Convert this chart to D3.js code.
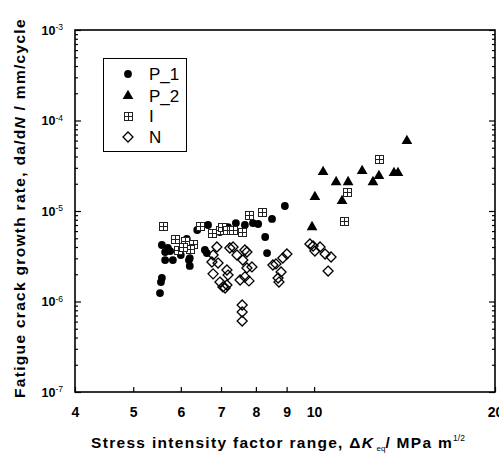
<!DOCTYPE html>
<html><head><meta charset="utf-8">
<script src="https://cdn.jsdelivr.net/npm/d3@7"></script>
<style>body{margin:0;background:#fff;} svg{display:block;font-family:Arial,"Liberation Sans",sans-serif;}</style>
</head><body>
<script>
// ---- data (ΔK in MPa·m^1/2, da/dN in mm/cycle) ----
const p1X = [5.54,5.56,5.58,5.58,5.65,5.71,5.65,5.82,5.76,6.00,6.14,6.19,6.21,6.39,6.58,6.63,6.66,6.97,7.19,7.41,7.67,7.91,8.07,8.51,8.94,8.29,8.35,6.21];
const p1Y = [1.24e-6,1.64e-6,1.82e-6,4.21e-6,3.52e-6,3.90e-6,2.87e-6,2.87e-6,3.61e-6,3.26e-6,4.91e-6,2.87e-6,2.47e-6,6.17e-6,3.71e-6,3.43e-6,7.00e-6,5.86e-6,6.65e-6,7.36e-6,7.00e-6,7.36e-6,7.18e-6,8.17e-6,1.135e-5,5.16e-6,3.43e-6,3.02e-6];
const p2X = [14.27,10.35,10.88,11.39,12.02,12.53,12.82,13.58,13.79,10.03,11.13,9.92];
const p2Y = [5.94e-5,2.70e-5,2.09e-5,2.09e-5,2.77e-5,2.09e-5,2.44e-5,2.63e-5,2.63e-5,1.43e-5,1.29e-5,6.65e-6];
const iX = [5.61,5.87,6.10,6.29,5.94,6.21,6.05,6.46,6.76,6.97,7.03,7.16,7.33,7.59,7.79,8.19,11.21,11.34,12.82];
const iY = [6.82e-6,4.91e-6,4.67e-6,4.32e-6,3.71e-6,3.80e-6,4.00e-6,6.82e-6,5.71e-6,6.17e-6,6.65e-6,6.17e-6,6.17e-6,5.86e-6,9.04e-6,9.75e-6,7.76e-6,1.62e-5,3.75e-5];
const nX = [6.89,6.79,6.76,6.92,6.79,6.97,7.05,7.16,7.11,7.19,7.16,7.24,7.33,7.44,7.61,7.67,7.73,7.53,7.67,7.73,7.59,7.59,7.59,7.88,7.79,9.01,8.87,8.64,8.54,8.81,8.71,8.74,9.84,9.96,10.03,10.23,10.43,10.67,10.55];
const nY = [4.00e-6,3.26e-6,2.73e-6,2.66e-6,2.02e-6,1.64e-6,1.45e-6,1.52e-6,1.41e-6,1.96e-6,2.23e-6,3.90e-6,4.00e-6,3.26e-6,2.87e-6,3.71e-6,3.52e-6,1.73e-6,1.87e-6,2.35e-6,9.15e-7,7.66e-7,6.09e-7,2.41e-6,1.69e-6,3.35e-6,3.02e-6,2.60e-6,2.53e-6,2.12e-6,1.82e-6,1.64e-6,4.32e-6,4.10e-6,3.61e-6,4.00e-6,3.35e-6,3.10e-6,2.17e-6];
const xTicks = [4,5,6,7,8,9,10,20];
const yTicks = [1e-7,1e-6,1e-5,1e-4,1e-3];
const legendNames = ["P_1","P_2","I","N"];

const W = 499, H = 453;
const L = 75, R = 495, T = 30, B = 392;
const svg = d3.select("body").append("svg").attr("width", W).attr("height", H);
const x = d3.scaleLog().domain([4,20]).range([L,R]);
const y = d3.scaleLog().domain([1e-7,1e-3]).range([B,T]);

const yMinor = [];
for (let e=-7;e<-3;e++) for (let m=2;m<=9;m++) yMinor.push(m*Math.pow(10,e));

// axes
const gB = svg.append("g").attr("transform",`translate(0,${B})`)
  .call(d3.axisBottom(x).tickValues(xTicks).tickFormat(d3.format("d")).tickSize(-5).tickPadding(15));
gB.selectAll("text").attr("font-size",14).attr("font-weight","bold").attr("fill","#000").attr("font-family","Arial, Liberation Sans, sans-serif");

const gL = svg.append("g").attr("transform",`translate(${L},0)`)
  .call(d3.axisLeft(y).tickValues(yTicks).tickSize(-6).tickPadding(12).tickFormat(""));
gL.selectAll(".tick text").each(function(d){
  const t = d3.select(this).attr("font-size",12.5).attr("font-weight","bold").attr("fill","#000")
    .attr("font-family","Arial, Liberation Sans, sans-serif");
  t.append("tspan").text("10");
  t.append("tspan").attr("dy","-0.5em").attr("font-size",8.5).attr("font-weight","normal").text(String(Math.round(Math.log10(d))));
});
svg.append("g").attr("transform",`translate(${L},0)`)
  .call(d3.axisLeft(y).tickValues(yMinor).tickSize(-3).tickFormat(""));
svg.append("g").attr("transform",`translate(${R},0)`)
  .call(d3.axisRight(y).tickValues(yTicks).tickSize(-6).tickFormat(""));
svg.append("g").attr("transform",`translate(${R},0)`)
  .call(d3.axisRight(y).tickValues(yMinor).tickSize(-3).tickFormat(""));
svg.selectAll(".domain").remove();
svg.selectAll(".tick line").attr("stroke","#000").attr("stroke-width",1.2);

// frame
svg.append("rect").attr("x",L).attr("y",T).attr("width",R-L).attr("height",B-T)
  .attr("fill","none").attr("stroke","#000").attr("stroke-width",1.6);

// marker drawers
function drawCircle(g, cx, cy){ g.append("circle").attr("cx",cx).attr("cy",cy).attr("r",3.9).attr("fill","#000"); }
function drawTri(g, cx, cy){ g.append("path").attr("transform",`translate(${cx},${cy})`).attr("d",d3.symbol(d3.symbolTriangle,50)()).attr("fill","#000"); }
function drawSq(g, cx0, cy0){
  const s=4, cx=Math.round(cx0)+0.5, cy=Math.round(cy0)+0.5;
  g.append("rect").attr("x",cx-s).attr("y",cy-s).attr("width",2*s).attr("height",2*s).attr("fill","#fff").attr("stroke","#222").attr("stroke-width",1);
  g.append("path").attr("d",`M${cx-s},${cy}H${cx+s}M${cx},${cy-s}V${cy+s}`).attr("stroke","#222").attr("stroke-width",1);
}
function drawDia(g, cx, cy){
  const s=5;
  g.append("path").attr("d",`M${cx},${cy-s}L${cx+s},${cy}L${cx},${cy+s}L${cx-s},${cy}Z`).attr("fill","none").attr("stroke","#000").attr("stroke-width",1.3);
}

const gP1 = svg.append("g"), gI = svg.append("g"), gN = svg.append("g"), gP2 = svg.append("g");
p1X.forEach((v,i)=>drawCircle(gP1, x(v), y(p1Y[i])));
iX.forEach((v,i)=>drawSq(gI, x(v), y(iY[i])));
nX.forEach((v,i)=>drawDia(gN, x(v), y(nY[i])));
p2X.forEach((v,i)=>drawTri(gP2, x(v), y(p2Y[i])));

// legend
const lg = svg.append("g");
lg.append("rect").attr("x",103.5).attr("y",58.5).attr("width",83).attr("height",93).attr("fill","#fff").attr("stroke","#000").attr("stroke-width",1);
const drawers = [drawCircle, drawTri, drawSq, drawDia];
const ly = [74,96,116,137];
legendNames.forEach((n,i)=>{
  drawers[i](lg, 128, ly[i]);
  lg.append("text").attr("x",149).attr("y",ly[i]).attr("dy","0.36em").attr("font-size",17).text(n);
});

// axis titles
const xt = svg.append("text").attr("x",278).attr("y",448).attr("text-anchor","middle")
  .attr("font-size",15.5).attr("font-weight","bold").attr("letter-spacing","1.3px");
xt.append("tspan").text("Stress intensity factor range, \u0394");
xt.append("tspan").attr("font-style","italic").text("K");
xt.append("tspan").attr("font-size",8).attr("dy","3").attr("font-weight","normal").attr("letter-spacing","0px").text(" eq");
xt.append("tspan").attr("dy","-3").text("/ MPa m");
xt.append("tspan").attr("font-size",8.5).attr("font-weight","normal").attr("letter-spacing","0px").attr("dy","-7").text("1/2");

const yt = svg.append("text").attr("transform","translate(25,208) rotate(-90)").attr("text-anchor","middle")
  .attr("font-size",15.5).attr("font-weight","bold").attr("letter-spacing","1.3px");
yt.append("tspan").text("Fatigue crack growth rate, da/d");
yt.append("tspan").attr("font-style","italic").text("N");
yt.append("tspan").text(" / mm/cycle");
</script>
</body></html>
